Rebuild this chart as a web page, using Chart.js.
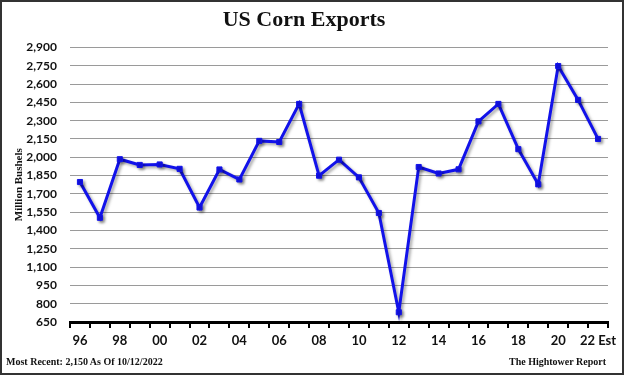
<!DOCTYPE html>
<html>
<head>
<meta charset="utf-8">
<script src="https://cdn.jsdelivr.net/npm/chart.js@4"></script>
<style>
html,body{margin:0;padding:0;background:#fff;}
#wrap{position:relative;width:624px;height:375px;}
#frame{position:absolute;left:0;top:0;width:620px;height:371px;border:2px solid #333;pointer-events:none;}
.foot{position:absolute;top:356px;font:bold 10px "Liberation Serif",serif;color:#111;white-space:nowrap;}
</style>
</head>
<body>
<div id="wrap">
<canvas id="c" width="624" height="375"></canvas>
<div class="foot" style="left:6px">Most Recent: 2,150 As Of 10/12/2022</div>
<div class="foot" style="right:18px">The Hightower Report</div>
<div id="frame"></div>
</div>
<script>
// marketing years 1996 .. 2022 (last one estimated)
const years = ['96','97','98','99','00','01','02','03','04','05','06','07','08','09','10','11','12','13','14','15','16','17','18','19','20','21','22 Est'];
const exportsMB = [1797,1504,1984,1937,1941,1905,1588,1900,1818,2134,2125,2437,1849,1980,1835,1543,730,1920,1867,1901,2294,2437,2066,1778,2747,2470,2150];
const yMin = 650, yMax = 2900, yStep = 150;

const lineShadow = {
  id: 'lineShadow',
  beforeDatasetsDraw(chart){
    const ctx = chart.ctx;
    ctx.save();
    ctx.shadowColor = 'rgba(0,0,0,0.35)';
    ctx.shadowOffsetX = 2; ctx.shadowOffsetY = 2; ctx.shadowBlur = 3;
  },
  afterDatasetsDraw(chart){ chart.ctx.restore(); }
};

new Chart(document.getElementById('c'), {
  type: 'line',
  data: {
    labels: years,
    datasets: [{
      data: exportsMB,
      borderColor: '#1212ea',
      backgroundColor: '#1212ea',
      borderWidth: 3,
      pointStyle: 'rect',
      pointRadius: 3.6,
      pointBorderWidth: 1,
      pointHoverRadius: 3.6,
      tension: 0
    }]
  },
  options: {
    responsive: false,
    animation: false,
    layout: { padding: { left: 0, right: 16, top: 0, bottom: 0 } },
    plugins: {
      legend: { display: false },
      tooltip: { enabled: false },
      title: {
        display: true,
        text: 'US Corn Exports',
        color: '#111',
        font: { family: 'Liberation Serif', size: 22, weight: 'bold' },
        padding: { top: 7, bottom: 14 }
      }
    },
    scales: {
      x: {
        offset: true,
        afterFit(s){ s.height = 53; },
        grid: { offset: true, drawOnChartArea: false, drawTicks: true, tickLength: 6, color: '#000', lineWidth: 2 },
        border: { display: true, color: '#000', width: 3 },
        ticks: {
          autoSkip: false, maxRotation: 0, padding: 5, color: '#111',
          font: { family: 'Lato', size: 13, weight: 'bold' },
          callback(v, i){ return i % 2 === 0 ? this.getLabelForValue(v) : ''; }
        }
      },
      y: {
        min: yMin, max: yMax,
        afterFit(s){ s.width = 70; },
        grid: { color: '#9a9a9a', lineWidth: 1, drawTicks: false },
        border: { display: false },
        ticks: {
          stepSize: yStep, padding: 13, color: '#111',
          font: { family: 'Lato', size: 12, weight: 'bold' },
          callback(v){ return v.toLocaleString('en-US'); }
        },
        title: {
          display: true, text: 'Million Bushels', color: '#111',
          font: { family: 'Liberation Serif', size: 11, weight: 'bold' },
          padding: { top: 13, bottom: 0 }
        }
      }
    }
  },
  plugins: [lineShadow]
});
</script>
</body>
</html>
